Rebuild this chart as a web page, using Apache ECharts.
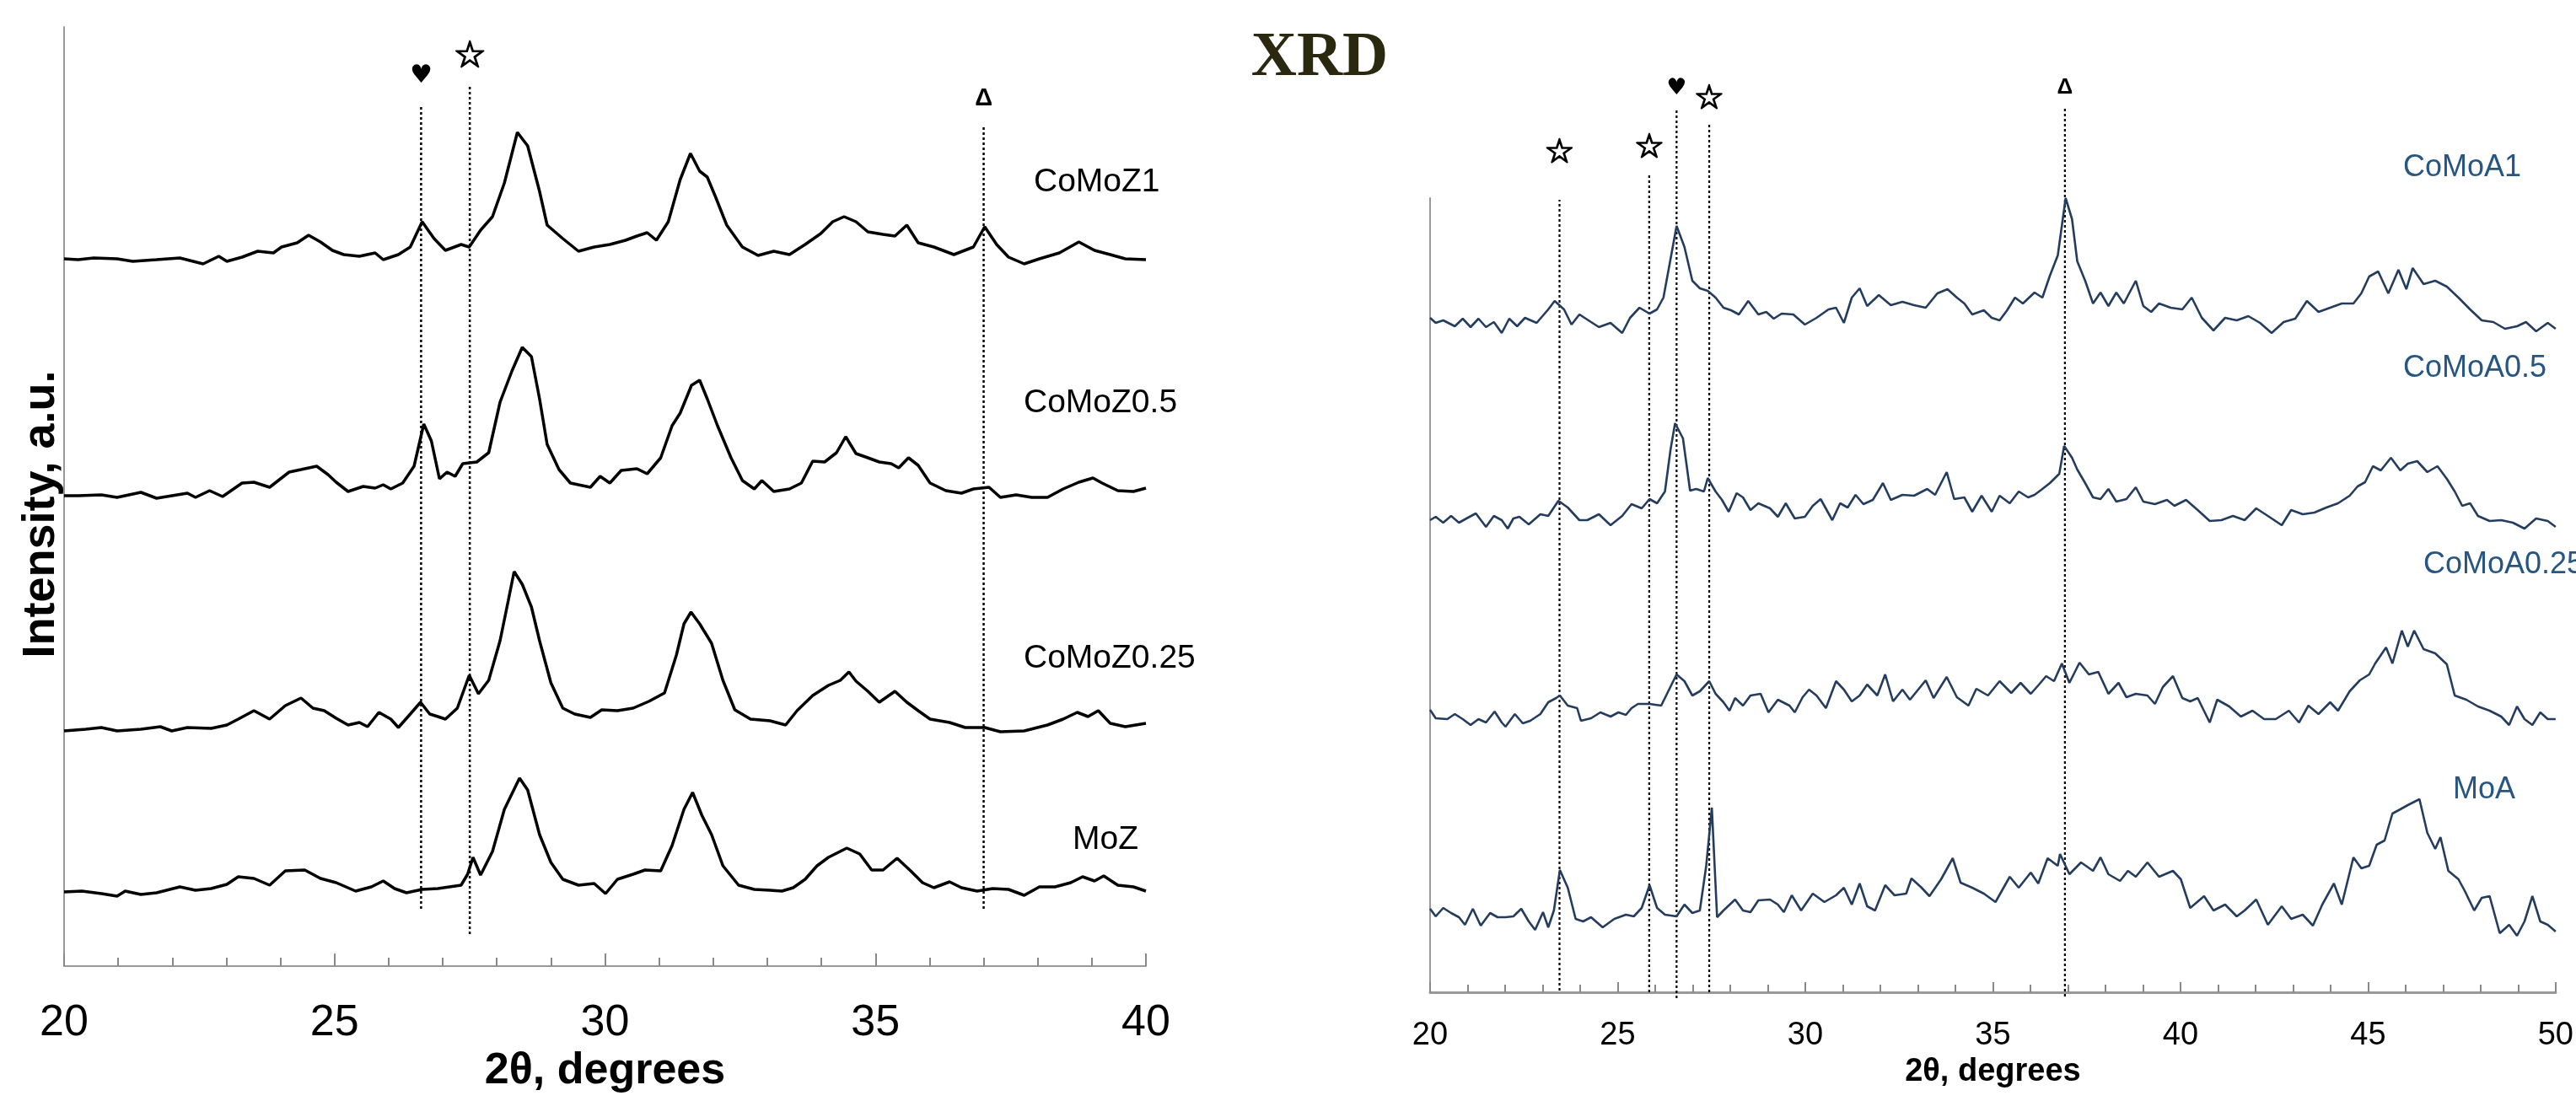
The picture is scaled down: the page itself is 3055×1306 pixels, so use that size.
<!DOCTYPE html>
<html><head><meta charset="utf-8">
<script src="https://cdn.jsdelivr.net/npm/echarts/dist/echarts.min.js"></script>
<style>html,body{margin:0;padding:0;background:#fff}#c{width:3055px;height:1306px}</style>
</head><body><div id="c"></div>
<script>
// ---------- Left panel (Z samples), [2θ, intensity a.u. incl. stacking offset] ----------
const comoZ1 = [[20.00,839],[20.26,838],[20.55,840],[20.98,839],[21.27,836],[21.71,838],[22.14,840],[22.57,833],[22.86,842],[23.01,836],[23.29,841],[23.58,848],[23.87,846],[24.02,853],[24.31,858],[24.52,867],[24.74,859],[24.96,849],[25.17,844],[25.46,842],[25.75,846],[25.90,838],[26.18,844],[26.40,853],[26.62,883],[26.84,863],[27.05,849],[27.34,856],[27.49,853],[27.70,873],[27.92,889],[28.14,929],[28.38,989],[28.57,973],[28.79,919],[28.93,879],[29.22,863],[29.51,848],[29.80,853],[30.09,856],[30.38,861],[30.59,866],[30.78,870],[30.95,861],[31.17,883],[31.39,933],[31.58,964],[31.75,943],[31.89,936],[32.04,913],[32.25,879],[32.54,853],[32.83,843],[33.12,848],[33.41,844],[33.70,856],[33.99,869],[34.21,883],[34.42,889],[34.64,883],[34.86,871],[35.14,868],[35.36,866],[35.58,879],[35.79,858],[36.08,853],[36.45,844],[36.81,853],[37.02,877],[37.24,856],[37.46,841],[37.75,833],[38.03,839],[38.40,846],[38.76,859],[39.05,849],[39.34,844],[39.62,839],[40.00,838]];
const comoZ05 = [[20.00,558],[20.26,558],[20.69,559],[20.98,556],[21.42,562],[21.71,555],[22.28,561],[22.43,556],[22.69,564],[22.93,557],[23.29,573],[23.51,574],[23.80,568],[24.16,586],[24.38,589],[24.67,593],[24.88,583],[25.03,574],[25.25,563],[25.53,569],[25.75,567],[25.90,571],[26.04,566],[26.26,573],[26.47,593],[26.65,643],[26.79,623],[26.94,578],[27.08,586],[27.23,581],[27.37,596],[27.63,598],[27.85,609],[28.06,669],[28.28,706],[28.47,734],[28.64,723],[28.79,673],[28.93,619],[29.15,589],[29.36,573],[29.73,568],[29.91,581],[30.09,573],[30.30,588],[30.59,590],[30.78,584],[31.03,603],[31.24,641],[31.39,656],[31.60,689],[31.75,695],[31.89,673],[32.08,641],[32.33,603],[32.54,576],[32.76,566],[32.90,576],[33.12,563],[33.41,566],[33.63,573],[33.84,599],[34.06,598],[34.28,609],[34.45,628],[34.64,608],[34.86,603],[35.07,598],[35.29,596],[35.43,591],[35.61,603],[35.79,594],[36.01,573],[36.30,564],[36.59,561],[36.81,566],[37.10,568],[37.31,556],[37.60,559],[37.89,556],[38.18,556],[38.47,566],[38.76,574],[39.02,579],[39.19,573],[39.48,564],[39.77,563],[40.00,567]];
const comoZ025 = [[20.00,279],[20.40,281],[20.69,283],[20.98,279],[21.42,281],[21.78,284],[21.99,279],[22.28,283],[22.72,282],[23.01,286],[23.22,293],[23.51,303],[23.80,293],[24.09,309],[24.38,318],[24.60,306],[24.81,303],[25.03,294],[25.25,286],[25.46,289],[25.61,284],[25.82,301],[26.04,293],[26.18,283],[26.40,299],[26.59,313],[26.76,299],[26.91,296],[27.05,293],[27.27,306],[27.49,345],[27.66,323],[27.85,339],[28.06,386],[28.21,433],[28.32,468],[28.47,453],[28.64,426],[28.79,386],[29.00,336],[29.22,306],[29.44,299],[29.73,295],[29.94,304],[30.23,303],[30.52,306],[30.81,314],[31.10,324],[31.32,369],[31.46,406],[31.59,420],[31.75,406],[31.97,383],[32.18,339],[32.40,304],[32.69,293],[33.05,291],[33.34,286],[33.55,303],[33.84,321],[34.13,333],[34.35,339],[34.51,349],[34.64,338],[34.86,326],[35.07,313],[35.36,326],[35.58,313],[35.79,303],[36.01,293],[36.37,289],[36.66,283],[37.02,283],[37.31,278],[37.75,279],[38.18,286],[38.47,293],[38.73,301],[38.93,296],[39.12,303],[39.34,288],[39.62,284],[40.00,288]];
const moZ = [[20.00,88],[20.33,89],[20.69,86],[20.98,83],[21.13,89],[21.42,85],[21.71,87],[22.14,94],[22.43,90],[22.72,92],[23.01,97],[23.22,106],[23.51,104],[23.80,96],[24.09,113],[24.45,114],[24.74,104],[25.03,99],[25.39,89],[25.68,94],[25.90,101],[26.11,92],[26.33,87],[26.62,91],[26.91,92],[27.34,96],[27.46,109],[27.56,129],[27.70,108],[27.92,136],[28.14,186],[28.42,223],[28.57,209],[28.79,156],[29.00,123],[29.22,103],[29.51,96],[29.80,98],[30.01,86],[30.23,103],[30.52,109],[30.74,114],[31.03,113],[31.24,143],[31.46,186],[31.62,206],[31.79,179],[31.97,156],[32.18,119],[32.47,96],[32.76,91],[33.05,90],[33.27,89],[33.48,93],[33.70,103],[33.92,119],[34.13,129],[34.47,140],[34.71,133],[34.93,114],[35.14,114],[35.40,128],[35.65,113],[35.87,99],[36.08,93],[36.37,100],[36.59,93],[36.88,89],[37.17,92],[37.46,91],[37.75,84],[38.03,94],[38.32,94],[38.61,99],[38.83,106],[39.05,101],[39.22,107],[39.48,96],[39.77,94],[40.00,89]];

// ---------- Right panel (A samples) ----------
const comoA1 = [[20.00,800],[20.15,794],[20.35,797],[20.66,790],[20.87,799],[21.08,789],[21.29,799],[21.49,789],[21.70,795],[21.91,782],[22.11,799],[22.32,790],[22.53,800],[22.84,794],[23.15,810],[23.32,820],[23.57,810],[23.77,792],[23.98,804],[24.29,795],[24.50,789],[24.81,794],[25.12,782],[25.33,800],[25.58,812],[25.85,805],[26.05,810],[26.22,824],[26.41,870],[26.57,909],[26.78,884],[26.99,844],[27.19,835],[27.40,832],[27.61,824],[27.82,812],[28.02,809],[28.23,804],[28.48,820],[28.75,804],[28.96,807],[29.16,799],[29.37,805],[29.68,804],[29.99,792],[30.30,800],[30.62,810],[30.82,812],[31.03,794],[31.24,824],[31.45,835],[31.65,814],[31.96,827],[32.28,815],[32.59,819],[32.90,815],[33.21,812],[33.52,829],[33.79,834],[34.04,824],[34.24,817],[34.45,804],[34.76,809],[34.97,800],[35.18,797],[35.38,809],[35.59,824],[35.80,817],[36.11,830],[36.32,824],[36.52,850],[36.73,874],[36.94,942],[37.11,917],[37.25,867],[37.46,844],[37.67,817],[37.87,830],[38.08,814],[38.29,830],[38.49,817],[38.81,844],[39.01,814],[39.22,807],[39.43,817],[39.74,812],[40.05,810],[40.30,824],[40.57,800],[40.88,785],[41.19,800],[41.50,797],[41.81,802],[42.12,794],[42.43,782],[42.75,795],[43.06,799],[43.37,820],[43.68,807],[43.99,812],[44.30,817],[44.61,817],[44.82,829],[45.03,849],[45.27,855],[45.54,829],[45.81,857],[46.02,834],[46.19,859],[46.48,840],[46.79,844],[47.10,837],[47.41,824],[47.72,810],[48.03,797],[48.34,795],[48.65,787],[48.97,790],[49.21,795],[49.48,784],[49.79,794],[50.00,787]];
const comoA05 = [[20.00,560],[20.15,564],[20.35,557],[20.56,565],[20.77,557],[20.97,562],[21.22,568],[21.49,552],[21.70,565],[21.91,560],[22.07,550],[22.22,562],[22.38,564],[22.63,555],[22.94,567],[23.15,565],[23.42,583],[23.67,575],[23.98,560],[24.19,560],[24.50,567],[24.81,554],[25.12,565],[25.37,579],[25.64,574],[25.85,585],[26.05,580],[26.26,594],[26.41,644],[26.53,675],[26.74,657],[26.93,595],[27.09,597],[27.30,594],[27.40,610],[27.61,594],[27.78,584],[27.96,570],[28.17,592],[28.34,587],[28.54,572],[28.75,580],[29.06,574],[29.27,564],[29.48,580],[29.72,562],[29.99,564],[30.20,577],[30.41,585],[30.72,560],[30.93,580],[31.13,575],[31.34,590],[31.55,579],[31.80,584],[32.07,604],[32.28,584],[32.59,590],[32.90,589],[33.25,597],[33.46,590],[33.77,617],[33.97,585],[34.24,587],[34.45,570],[34.70,589],[34.97,570],[35.18,589],[35.45,580],[35.69,594],[35.94,587],[36.11,590],[36.32,597],[36.52,604],[36.77,615],[36.90,648],[37.11,634],[37.25,620],[37.46,604],[37.67,587],[37.87,585],[38.08,597],[38.29,582],[38.56,585],[38.81,599],[39.01,582],[39.32,579],[39.64,584],[39.84,577],[40.15,584],[40.46,572],[40.78,559],[41.09,560],[41.40,565],[41.71,560],[42.02,574],[42.33,565],[42.70,554],[42.95,572],[43.26,567],[43.57,569],[43.89,575],[44.20,580],[44.51,589],[44.72,600],[44.92,605],[45.13,624],[45.34,619],[45.61,634],[45.86,619],[46.06,627],[46.31,630],[46.58,617],[46.85,624],[47.10,609],[47.31,594],[47.51,577],[47.72,580],[47.93,565],[48.24,559],[48.55,560],[48.86,557],[49.17,550],[49.48,562],[49.79,559],[50.00,552]];
const comoA025 = [[20.00,335],[20.15,325],[20.46,324],[20.66,330],[20.87,324],[21.08,317],[21.29,324],[21.49,320],[21.72,333],[21.91,320],[22.01,315],[22.26,330],[22.47,319],[22.67,322],[22.94,330],[23.15,344],[23.36,349],[23.46,352],[23.67,340],[23.92,337],[24.02,322],[24.29,325],[24.54,332],[24.81,327],[25.02,332],[25.22,329],[25.37,337],[25.54,342],[25.85,342],[26.16,340],[26.37,359],[26.57,377],[26.78,369],[26.99,352],[27.19,357],[27.44,369],[27.61,354],[27.82,344],[27.98,334],[28.13,349],[28.34,340],[28.54,352],[28.81,354],[29.02,332],[29.27,347],[29.58,340],[29.72,332],[29.93,350],[30.10,359],[30.30,352],[30.55,337],[30.82,369],[31.03,359],[31.24,345],[31.45,352],[31.65,365],[31.92,352],[32.13,377],[32.34,345],[32.59,359],[32.79,347],[33.21,370],[33.42,349],[33.77,374],[34.04,350],[34.35,340],[34.56,360],[34.87,352],[35.18,369],[35.49,355],[35.74,367],[36.01,354],[36.21,364],[36.42,375],[36.63,369],[36.84,390],[37.04,367],[37.31,391],[37.56,377],[37.81,380],[38.08,354],[38.35,367],[38.56,350],[38.81,354],[39.12,352],[39.32,342],[39.53,362],[39.80,375],[40.05,349],[40.26,345],[40.46,349],[40.78,320],[40.98,347],[41.30,339],[41.61,327],[41.92,334],[42.23,324],[42.54,324],[42.89,334],[43.16,320],[43.41,340],[43.68,330],[43.99,344],[44.20,334],[44.51,357],[44.78,370],[45.03,377],[45.19,390],[45.48,409],[45.65,390],[45.90,429],[46.06,410],[46.23,429],[46.48,407],[46.79,402],[47.10,389],[47.31,352],[47.62,347],[47.93,339],[48.24,334],[48.55,327],[48.76,317],[48.97,339],[49.17,324],[49.38,317],[49.59,332],[49.79,324],[50.00,324]];
const moA = [[20.00,99],[20.15,90],[20.35,100],[20.56,94],[20.77,89],[20.93,80],[21.14,99],[21.35,79],[21.60,94],[21.80,89],[22.01,89],[22.22,90],[22.43,99],[22.63,84],[22.80,74],[23.01,95],[23.15,77],[23.30,97],[23.46,145],[23.67,124],[23.88,87],[24.08,84],[24.29,89],[24.60,77],[24.91,87],[25.22,92],[25.43,90],[25.64,100],[25.85,127],[26.05,100],[26.26,92],[26.57,90],[26.78,104],[26.99,94],[27.19,97],[27.36,150],[27.51,219],[27.65,89],[27.82,97],[28.13,110],[28.34,97],[28.54,95],[28.75,109],[29.06,110],[29.27,104],[29.43,95],[29.64,115],[29.89,97],[30.20,117],[30.51,107],[30.82,115],[31.03,124],[31.24,104],[31.45,129],[31.65,102],[31.86,97],[32.13,127],[32.38,115],[32.69,117],[32.83,135],[33.10,124],[33.31,114],[33.62,134],[33.93,159],[34.14,130],[34.45,124],[34.76,117],[35.07,107],[35.45,137],[35.69,124],[36.01,142],[36.21,129],[36.46,159],[36.73,150],[36.79,164],[37.04,140],[37.35,154],[37.67,144],[37.87,160],[38.08,140],[38.39,132],[38.60,144],[38.81,137],[39.12,154],[39.43,137],[39.80,144],[40.01,134],[40.26,100],[40.63,114],[40.88,97],[41.19,104],[41.50,90],[41.71,97],[42.02,110],[42.33,80],[42.70,102],[42.95,87],[43.26,92],[43.53,79],[43.78,104],[44.09,129],[44.30,104],[44.61,160],[44.82,147],[45.03,150],[45.23,175],[45.44,180],[45.65,212],[45.86,217],[46.06,222],[46.37,229],[46.58,189],[46.79,170],[46.93,184],[47.14,144],[47.41,134],[47.58,120],[47.83,97],[48.03,112],[48.24,114],[48.51,70],[48.76,80],[48.97,67],[49.17,84],[49.38,114],[49.59,84],[49.79,80],[50.00,72]];

// ---------- Phase reference lines and their symbols ----------
const leftRefX = [26.6, 27.5, 37.0];
const leftRefTop = [1021, 1044, 998];
const leftRefBottom = [68, 38, 68];
const leftMarkY = [1056, 1077, 1029];
const leftMarkSym = ['\u2665', '\u2606', '\u0394'];

const rightRefX = [23.45, 25.84, 26.57, 27.44, 36.92];
const rightRefTop = [940, 972, 1047, 1032, 1050];
const rightRefBottom = [2, 0, -7, 0, -5];
const rightMarkY = [994, 1000, 1072, 1058, 1073];
const rightMarkSym = ['\u2606', '\u2606', '\u2665', '\u2606', '\u0394'];

const leftNames = ['CoMoZ1', 'CoMoZ0.5', 'CoMoZ0.25', 'MoZ'];
const rightNames = ['CoMoA1', 'CoMoA0.5', 'CoMoA0.25', 'MoA'];
const xTickLeft = [20, 25, 30, 35, 40];
const xTickRight = [20, 25, 30, 35, 40, 45, 50];

const chart = echarts.init(document.getElementById('c'), null, {renderer: 'canvas'});
const SANS = '"Liberation Sans", Arial, sans-serif';
const trace = '#243c5e';
const labelBlue = '#285682';

function mkX(gi, ticks, fs, margin, nameSize, nameGap, lw) {
  return {
    type: 'value', gridIndex: gi, min: ticks[0], max: ticks[ticks.length - 1], interval: ticks[1] - ticks[0],
    name: '2\u03b8, degrees', nameLocation: 'middle', nameGap: nameGap,
    nameTextStyle: {fontFamily: SANS, fontWeight: 'bold', fontSize: nameSize, color: '#000'},
    axisLine: {show: true, onZero: false, lineStyle: {color: '#999', width: lw}},
    axisTick: {show: true, inside: true, length: gi === 0 ? 15 : 12, lineStyle: {color: '#888', width: 2}},
    minorTick: {show: true, splitNumber: 5, length: gi === 0 ? 10 : 9, lineStyle: {color: '#888', width: 2}},
    axisLabel: {fontFamily: SANS, fontSize: fs, color: '#000', margin: margin},
    splitLine: {show: false}, minorSplitLine: {show: false}
  };
}
function mkY(gi, max) {
  return {
    type: 'value', gridIndex: gi, min: 0, max: max,
    axisLine: {show: true, onZero: false, lineStyle: {color: '#999', width: 2}},
    axisTick: {show: false}, axisLabel: {show: false}, splitLine: {show: false}
  };
}

const series = [];
[comoZ1, comoZ05, comoZ025, moZ].forEach((d, i) => series.push({
  name: leftNames[i], type: 'line', xAxisIndex: 0, yAxisIndex: 0, data: d,
  showSymbol: false, symbol: 'none', lineStyle: {color: '#000', width: 3.5}, z: 3
}));
[comoA1, comoA05, comoA025, moA].forEach((d, i) => series.push({
  name: rightNames[i], type: 'line', xAxisIndex: 1, yAxisIndex: 1, data: d,
  showSymbol: false, symbol: 'none', lineStyle: {color: trace, width: 2.6}, z: 3
}));
leftRefX.forEach((x, i) => series.push({
  type: 'line', xAxisIndex: 0, yAxisIndex: 0, clip: false, silent: true,
  data: [[x, leftRefBottom[i]], [x, leftRefTop[i]]], showSymbol: false, symbol: 'none',
  lineStyle: {color: '#000', width: 2.5, type: [3, 3]}, z: 2
}));
rightRefX.forEach((x, i) => series.push({
  type: 'line', xAxisIndex: 1, yAxisIndex: 1, clip: false, silent: true,
  data: [[x, rightRefBottom[i]], [x, rightRefTop[i]]], showSymbol: false, symbol: 'none',
  lineStyle: {color: '#000', width: 2.2, type: [3, 3]}, z: 2
}));

chart.setOption({
  animation: false,
  backgroundColor: '#fff',
  grid: [
    {left: 76, right: 1696, top: 32, bottom: 160},
    {left: 1696, right: 13, top: 235, bottom: 129}
  ],
  xAxis: [mkX(0, xTickLeft, 52, 42, 52, 90, 2), mkX(1, xTickRight, 38, 33, 38, 61, 3)],
  yAxis: [mkY(0, 1114), mkY(1, 942)],
  series: series
});

function txt(x, y, s, font, fill, align, extra, strokeW) {
  const st = {text: s, font: font, fill: fill, align: align, verticalAlign: 'middle',
              textAlign: align, textVerticalAlign: 'middle'};
  if (strokeW) { st.stroke = fill; st.lineWidth = strokeW; }
  return Object.assign({type: 'text', x: x, y: y, z: 10, silent: true, style: st}, extra || {});
}
const g = [];
function markFont(sym, side) {
  if (sym === '\u0394') return 'bold ' + (side === 0 ? 29 : 26) + 'px ' + SANS;
  if (sym === '\u2665') return (side === 0 ? 30 : 27) + 'px "DejaVu Sans"';
  return 'bold ' + (side === 0 ? 44 : 40) + 'px "DejaVu Sans"';
}
function markStroke(sym) { return sym === '\u2606' ? 1.6 : 0; }
leftRefX.forEach((x, i) => {
  const p = chart.convertToPixel({gridIndex: 0}, [x, leftMarkY[i]]);
  g.push(txt(p[0], p[1], leftMarkSym[i], markFont(leftMarkSym[i], 0), '#000', 'center', null, markStroke(leftMarkSym[i])));
});
rightRefX.forEach((x, i) => {
  const p = chart.convertToPixel({gridIndex: 1}, [x, rightMarkY[i]]);
  g.push(txt(p[0], p[1], rightMarkSym[i], markFont(rightMarkSym[i], 1), '#000', 'center', null, markStroke(rightMarkSym[i])));
});
// sample labels
const lf = '39px ' + SANS, rf = '36px ' + SANS;
g.push(txt(1226, 216, leftNames[0], lf, '#000', 'left'));
g.push(txt(1214, 478, leftNames[1], lf, '#000', 'left'));
g.push(txt(1214, 781, leftNames[2], lf, '#000', 'left'));
g.push(txt(1272, 996, leftNames[3], lf, '#000', 'left'));
g.push(txt(2850, 199, rightNames[0], rf, labelBlue, 'left'));
g.push(txt(2850, 437, rightNames[1], rf, labelBlue, 'left'));
g.push(txt(2874, 670, rightNames[2], rf, labelBlue, 'left'));
g.push(txt(2909, 937, rightNames[3], rf, labelBlue, 'left'));
// titles
g.push(txt(1565, 70, 'XRD', 'bold 75px "Liberation Serif", "Times New Roman", serif', '#2a2910', 'center'));
g.push(txt(49, 610, 'Intensity, a.u.', 'bold 54px ' + SANS, '#000', 'center', {rotation: Math.PI / 2}));
chart.setOption({graphic: g});
</script>
</body></html>
